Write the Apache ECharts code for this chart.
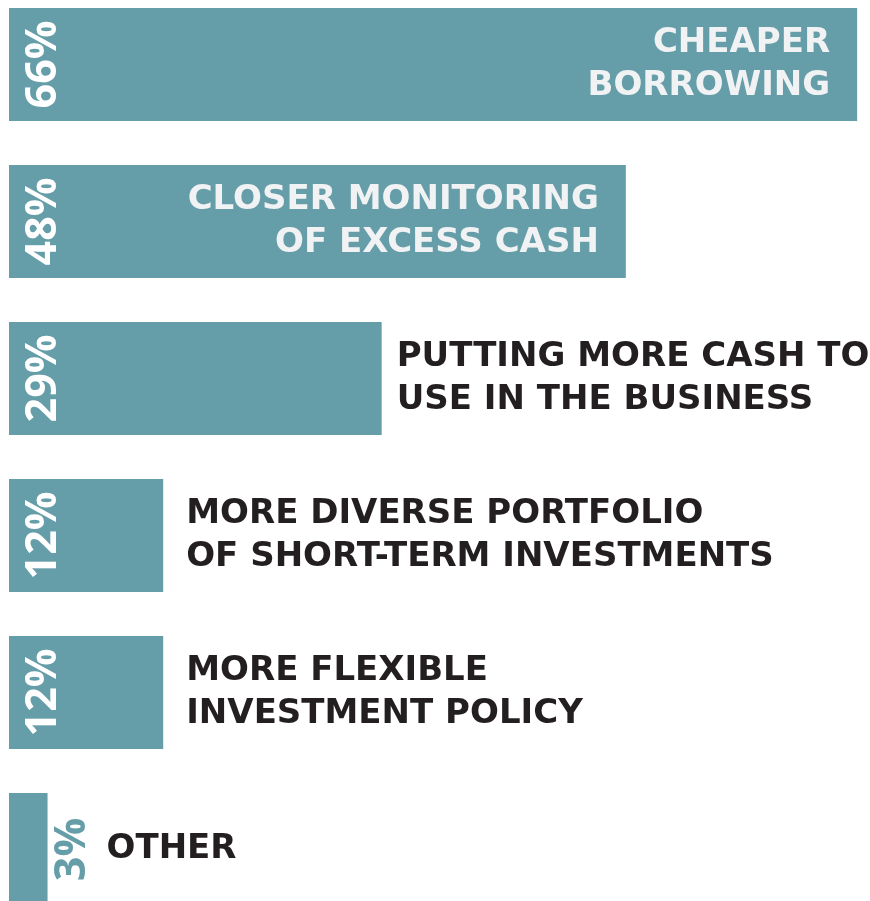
<!DOCTYPE html>
<html>
<head>
<meta charset="utf-8">
<script src="https://cdn.jsdelivr.net/npm/echarts@6/dist/echarts.min.js"></script>
<style>
  html, body { margin: 0; padding: 0; background: #fff; }
  #chart { width: 870px; height: 901px; }
</style>
</head>
<body>
<div id="chart"></div>
<script>
var categories = [
    'CHEAPER\nBORROWING',
    'CLOSER MONITORING\nOF EXCESS CASH',
    'PUTTING MORE CASH TO\nUSE IN THE BUSINESS',
    'MORE DIVERSE PORTFOLIO\nOF SHORT-TERM INVESTMENTS',
    'MORE FLEXIBLE\nINVESTMENT POLICY',
    'OTHER'
];
var values = [66, 48, 29, 12, 12, 3];

var teal = '#659ea9';
var dark = '#231f20';

var myChart = echarts.init(document.getElementById('chart'));

// percentage labels, rotated; tiny bars get theirs outside in teal
var pctData = values.map(function (v) {
    var small = v < 5;
    return {
        value: v,
        label: {
            position: [small ? 64 : 35, '50%'],
            color: small ? teal : '#ffffff'
        }
    };
});

// category labels on an invisible copy of the bars
var nameData = values.map(function (v) {
    var inside = v >= 40;
    var gap = inside ? 27 : (v >= 20 ? 15 : (v >= 5 ? 23 : 59));
    return {
        value: v,
        label: {
            position: inside ? 'insideRight' : 'right',
            distance: gap,
            color: inside ? '#f1f2f3' : dark,
            align: inside ? 'right' : 'left'
        }
    };
});

var option = {
    animation: false,
    grid: { left: 9, right: 0, top: -14, height: 942, outerBoundsMode: 'none', containLabel: false },
    xAxis: { type: 'value', min: 0, max: 67, show: false },
    yAxis: {
        type: 'category',
        data: categories,
        inverse: true,
        show: false
    },
    series: [
        {
            name: 'pct',
            type: 'bar',
            barWidth: 113,
            itemStyle: { color: teal },
            label: {
                show: true,
                rotate: 90,
                align: 'center',
                verticalAlign: 'middle',
                fontFamily: 'Open Sans',
                fontWeight: 'bold',
                fontSize: 43,
                formatter: '{c}%'
            },
            data: pctData
        },
        {
            name: 'names',
            type: 'bar',
            barWidth: 113,
            barGap: '-100%',
            itemStyle: { color: 'transparent' },
            label: {
                show: true,
                fontFamily: 'DejaVu Sans',
                fontWeight: 'bold',
                fontSize: 34,
                lineHeight: 43,
                formatter: function (p) { return p.name; }
            },
            data: nameData
        }
    ]
};

myChart.setOption(option, true);
</script>
</body>
</html>
